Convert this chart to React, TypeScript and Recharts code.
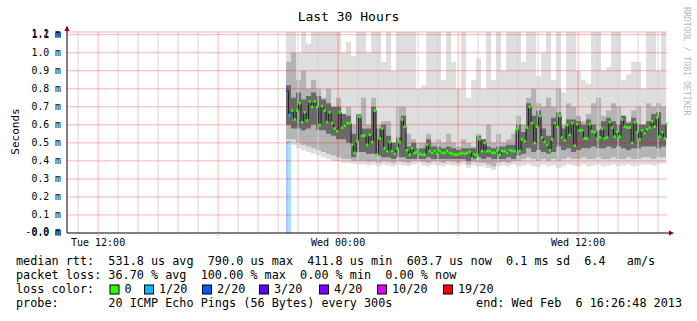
import React from 'react';
import { ComposedChart, Area, Line, XAxis, YAxis, ReferenceLine } from 'recharts';

// time axis, hours since Tue 00:00
const AXIS_START = 10 + 26.8 / 60; // Tue 10:26:48
const AXIS_END = AXIS_START + 30; // Wed 16:26:48
const DATA_START = 21.4;
const MEDIAN_STEP = 0.125;
const SMOKE_STEP = 0.25;
const Y_TOP = 1.115;

const xMajorHours = [12, 18, 24, 30, 36];
const xLabelHours = [12, 24, 36];
const xLabels = ['Tue 12:00', 'Wed 00:00', 'Wed 12:00'];
const xMinorHours = [11, 13, 14, 15, 16, 17, 19, 20, 21, 22, 23, 25, 26, 27, 28, 29, 31, 32, 33, 34, 35, 37, 38, 39, 40];

const yTickValues = [0, 0.1, 0.2, 0.3, 0.4, 0.5, 0.6, 0.7, 0.8, 0.9, 1.0, 1.1];
const yTickLabels = ['0.0 m', '0.1 m', '0.2 m', '0.3 m', '0.4 m', '0.5 m', '0.6 m', '0.7 m', '0.8 m', '0.9 m', '1.0 m', '1.1 m'];
const yExtraLabels: Record<number, string> = { 0: '-0.0 m', 11: '1.2 m' };

// median rtt (ms), one value per 7.5 minutes
const medianRtt = [
  0.79, 0.655, 0.68, 0.63, 0.68, 0.72, 0.615, 0.67, 0.625, 0.73,
  0.70, 0.73, 0.70, 0.60, 0.705, 0.68, 0.615, 0.67, 0.61, 0.58,
  0.565, 0.67, 0.585, 0.595, 0.61, 0.61, 0.49, 0.445, 0.51, 0.645,
  0.54, 0.54, 0.49, 0.545, 0.505, 0.68, 0.435, 0.525, 0.58, 0.47,
  0.455, 0.505, 0.455, 0.44, 0.47, 0.505, 0.63, 0.59, 0.46, 0.435,
  0.47, 0.445, 0.45, 0.44, 0.435, 0.435, 0.49, 0.455, 0.445, 0.455,
  0.44, 0.455, 0.445, 0.445, 0.455, 0.445, 0.44, 0.435, 0.435, 0.44,
  0.445, 0.44, 0.445, 0.45, 0.415, 0.435, 0.435, 0.52, 0.455, 0.50,
  0.455, 0.455, 0.445, 0.445, 0.455, 0.435, 0.455, 0.455, 0.445, 0.46,
  0.455, 0.455, 0.575, 0.455, 0.52, 0.51, 0.585, 0.70, 0.61, 0.50,
  0.59, 0.65, 0.53, 0.505, 0.49, 0.46, 0.52, 0.61, 0.59, 0.65,
  0.53, 0.515, 0.60, 0.545, 0.61, 0.485, 0.605, 0.57, 0.57, 0.525,
  0.525, 0.605, 0.565, 0.56, 0.525, 0.53, 0.58, 0.525, 0.53, 0.615,
  0.585, 0.535, 0.56, 0.535, 0.63, 0.59, 0.585, 0.585, 0.50, 0.615,
  0.56, 0.52, 0.57, 0.555, 0.575, 0.585, 0.62, 0.59, 0.64, 0.535,
  0.56, 0.525, 0.605,
];
// points with packet loss (index into medianRtt -> lost pings of 20)
const lossyIndex = [0, 1];
const lossyCount = [2, 1];
const lossBarTop = [0.51, 0.51];

const lossLevels = [0, 1, 2, 3, 4, 10, 19];
const lossColors = ['#26ff00', '#00b8ff', '#0059ff', '#5e00ff', '#7e00ff', '#dd00ff', '#ff0000'];
const lossLabels = ['0', '1/20', '2/20', '3/20', '4/20', '10/20', '19/20'];

// smoke (ms), one value per 15 minutes
const smokeHi = [
  1.115, 1.115, 1.0, 1.115, 1.05, 1.115, 1.115, 1.115, 1.115, 1.115,
  1.115, 1.0, 1.06, 0.98, 1.115, 1.115, 1.0, 1.115, 1.115, 0.95,
  1.115, 0.9, 1.115, 1.115, 1.115, 1.115, 0.8, 0.82, 1.115, 1.115,
  1.115, 0.85, 1.115, 0.95, 0.8, 1.115, 0.75, 0.85, 0.97, 0.8,
  1.115, 0.85, 1.115, 0.9, 1.115, 1.115, 1.115, 0.95, 1.115, 1.115,
  0.87, 1.0, 1.115, 0.85, 1.115, 0.78, 1.115, 1.115, 0.9, 0.85,
  0.83, 1.115, 1.115, 0.9, 0.92, 1.115, 1.115, 0.85, 0.88, 0.95,
  0.95, 0.8, 1.115, 1.115, 0.9, 1.115, 1.115,
];
const smokeMidHi = [
  0.95, 1.0, 0.85, 0.9, 0.8, 0.85, 0.8, 0.75, 0.8, 0.7, 0.75,
  0.65, 0.7, 0.6, 0.65, 0.75, 0.6, 0.75, 0.6, 0.62, 0.62,
  0.5, 0.7, 0.7, 0.55, 0.52, 0.5, 0.5, 0.55, 0.5, 0.52, 0.5, 0.55, 0.5, 0.48, 0.52, 0.5, 0.48, 0.55,
  0.52, 0.6, 0.5, 0.55, 0.5, 0.52, 0.55, 0.65, 0.6, 0.75, 0.8, 0.72,
  0.7, 0.75, 0.7, 0.8, 0.6, 0.72, 0.7, 0.65, 0.62, 0.66, 0.72, 0.75, 0.65, 0.68, 0.72, 0.7, 0.65, 0.62, 0.68, 0.7, 0.6, 0.72, 0.7, 0.72, 0.7, 0.7,
];
const smokeDarkHi = [
  0.82, 0.75, 0.78, 0.74, 0.76, 0.78, 0.76, 0.74, 0.72, 0.70, 0.70,
  0.66, 0.65, 0.55, 0.66, 0.58, 0.58, 0.70, 0.58, 0.60, 0.54,
  0.50, 0.53, 0.65, 0.48, 0.50, 0.47, 0.47, 0.52, 0.48, 0.48, 0.47, 0.48, 0.47, 0.46, 0.47, 0.47, 0.47, 0.54,
  0.52, 0.48, 0.47, 0.48, 0.48, 0.49, 0.49, 0.60, 0.56, 0.72, 0.65, 0.68,
  0.58, 0.54, 0.64, 0.67, 0.58, 0.63, 0.63, 0.62, 0.60, 0.63, 0.60, 0.57, 0.62, 0.64, 0.62, 0.60, 0.65, 0.61, 0.64, 0.60, 0.60, 0.62, 0.66, 0.67, 0.60, 0.63,
];
const smokeDarkLo = [
  0.60, 0.58, 0.58, 0.57, 0.58, 0.60, 0.57, 0.57, 0.55, 0.54, 0.52,
  0.52, 0.50, 0.42, 0.45, 0.45, 0.44, 0.44, 0.43, 0.42, 0.42,
  0.41, 0.42, 0.42, 0.41, 0.41, 0.41, 0.41, 0.42, 0.41, 0.41, 0.41, 0.41, 0.41, 0.41, 0.41, 0.40, 0.41, 0.42,
  0.41, 0.42, 0.41, 0.41, 0.41, 0.42, 0.41, 0.43, 0.44, 0.47, 0.45, 0.46,
  0.45, 0.44, 0.45, 0.48, 0.46, 0.47, 0.45, 0.46, 0.47, 0.47, 0.48, 0.47, 0.47, 0.48, 0.47, 0.48, 0.47, 0.46, 0.47, 0.47, 0.48, 0.48, 0.48, 0.47, 0.48, 0.48,
];
const smokeMidLo = [
  0.52, 0.52, 0.50, 0.49, 0.48, 0.47, 0.46, 0.45, 0.44, 0.43, 0.42, 0.41, 0.41, 0.40, 0.40,
  0.40, 0.395, 0.40, 0.39, 0.40, 0.395, 0.39, 0.40, 0.395, 0.39, 0.40, 0.40, 0.395, 0.39, 0.40, 0.395, 0.39, 0.40, 0.395, 0.39, 0.40, 0.38, 0.395, 0.39,
  0.39, 0.38, 0.37, 0.39, 0.395, 0.39, 0.40, 0.40, 0.41, 0.42, 0.41, 0.40, 0.41, 0.40, 0.41, 0.40, 0.41, 0.42, 0.41, 0.41,
  0.42, 0.41, 0.41, 0.42, 0.41, 0.41, 0.42, 0.41, 0.41, 0.42, 0.41, 0.41, 0.42, 0.42, 0.41, 0.42, 0.42, 0.42,
];
const smokeLo = [
  0.50, 0.49, 0.47, 0.46, 0.45, 0.44, 0.43, 0.42, 0.41, 0.40, 0.40, 0.39, 0.39, 0.385, 0.38,
  0.38, 0.375, 0.38, 0.37, 0.38, 0.375, 0.37, 0.38, 0.375, 0.37, 0.38, 0.385, 0.375, 0.37, 0.38, 0.375, 0.37, 0.38, 0.375, 0.37, 0.38, 0.36, 0.375, 0.37,
  0.37, 0.36, 0.35, 0.37, 0.375, 0.37, 0.38, 0.37, 0.375, 0.38, 0.37, 0.365, 0.38, 0.37, 0.375, 0.36, 0.37, 0.38, 0.375, 0.37,
  0.38, 0.37, 0.375, 0.38, 0.37, 0.375, 0.38, 0.37, 0.375, 0.38, 0.37, 0.375, 0.38, 0.38, 0.375, 0.38, 0.385, 0.38,
];

const FONT = '"DejaVu Sans Mono", monospace';

const lossOf = (i: number) => {
  const k = lossyIndex.indexOf(i);
  return k < 0 ? 0 : lossyCount[k];
};
const colorOf = (loss: number) => lossColors[lossLevels.indexOf(loss)] || lossColors[0];

const medianData = medianRtt.map((v, i) => ({ t: DATA_START + i * MEDIAN_STEP, v, loss: lossOf(i) }));
const smokeData = smokeLo.map((lo, j) => ({
  t: DATA_START + j * SMOKE_STEP,
  light: [lo, smokeHi[j]],
  mid: [smokeMidLo[j], smokeMidHi[j]],
  dark: [smokeDarkLo[j], smokeDarkHi[j]],
}));
const lossBars = lossyIndex.map((idx, k) => ({
  color: colorOf(lossyCount[k]),
  data: [
    { t: DATA_START + idx * MEDIAN_STEP, top: lossBarTop[k] },
    { t: DATA_START + (idx + 1) * MEDIAN_STEP, top: lossBarTop[k] },
  ],
}));

const xFormat = (h: number) => {
  const k = xLabelHours.indexOf(h);
  return k < 0 ? '' : xLabels[k];
};

const YTick = (props: any) => {
  const { x, y, index } = props;
  const extra = yExtraLabels[index];
  const ty = Math.round(y);
  return (
    <g>
      {extra && (
        <text x={x} y={ty - 1} dy="0.355em" textAnchor="end" fontFamily={FONT} fontSize={9.8} fill="#000" stroke="none" style={{ whiteSpace: 'pre' }}>
          {extra}
        </text>
      )}
      <text x={x} y={ty} dy="0.355em" textAnchor="end" fontFamily={FONT} fontSize={9.8} fill="#000" stroke="none" style={{ whiteSpace: 'pre' }}>
        {yTickLabels[index]}
      </text>
    </g>
  );
};

const MedianDot = (p: any) => {
  if (p.cx == null || p.cy == null) return <g key={p.key} />;
  return <rect key={p.key} x={p.cx - 0.2} y={p.cy - 1.2} width={2.6} height={2.6} fill={colorOf(p.payload.loss)} stroke="none" />;
};

const legendRow1 = 'median rtt:  531.8 us avg  790.0 us max  411.8 us min  603.7 us now  0.1 ms sd  6.4   am/s';
const legendRow2 = 'packet loss: 36.70 % avg  100.00 % max  0.00 % min  0.00 % now';
const legendRow3 = 'loss color:';
const legendRow4a = 'probe:       20 ICMP Echo Pings (56 Bytes) every 300s';
const legendRow4b = 'end: Wed Feb  6 16:26:48 2013';
const lossLabelX = [124.5, 159, 217, 274, 334, 392, 458];

export default function App() {
  const tStyle: React.CSSProperties = { whiteSpace: 'pre' };
  return (
    <div style={{ position: 'absolute', left: 0, top: 0, width: 697, height: 321, background: '#ffffff', overflow: 'hidden' }}>
      <ComposedChart width={697} height={321} margin={{ top: 32, right: 30, bottom: 68, left: 0 }}>
        <XAxis
          type="number"
          dataKey="t"
          domain={[AXIS_START, AXIS_END]}
          allowDataOverflow
          ticks={xMajorHours}
          interval={0}
          tickFormatter={xFormat}
          height={20}
          axisLine={{ stroke: '#000000' }}
          tickLine={{ stroke: '#f0a0a0' }}
          tickSize={3}
          tickMargin={3}
          tick={{ fontFamily: FONT, fontSize: 10, fill: '#000000', stroke: 'none' }}
        />
        <YAxis
          type="number"
          domain={[0, Y_TOP]}
          allowDataOverflow
          ticks={yTickValues}
          interval={0}
          width={67}
          tickLine={false}
          tickSize={0}
          tickMargin={6}
          axisLine={{ stroke: '#000000' }}
          tick={(p: any) => <YTick {...p} />}
        />
        {xMinorHours.map((h) => (
          <ReferenceLine key={'minor' + h} x={h} stroke="#d4d4d4" strokeWidth={1} />
        ))}
        <Area data={smokeData} dataKey="light" type="stepAfter" stroke="none" fill="#dedede" fillOpacity={1} isAnimationActive={false} dot={false} activeDot={false} />
        <Area data={smokeData} dataKey="mid" type="stepAfter" stroke="none" fill="#b4b4b4" fillOpacity={1} isAnimationActive={false} dot={false} activeDot={false} />
        <Area data={smokeData} dataKey="dark" type="stepAfter" stroke="none" fill="#6a6a6a" fillOpacity={1} isAnimationActive={false} dot={false} activeDot={false} />
        {lossBars.map((b, k) => (
          <Area key={'loss' + k} data={b.data} dataKey="top" type="stepAfter" stroke="none" fill={b.color} fillOpacity={0.35} isAnimationActive={false} dot={false} activeDot={false} />
        ))}
        <Line data={medianData} dataKey="v" type="stepAfter" stroke="#1c1c1c" strokeWidth={1} dot={false} activeDot={false} isAnimationActive={false} />
        <Line data={medianData} dataKey="v" type="linear" stroke="none" dot={(p: any) => <MedianDot {...p} />} activeDot={false} isAnimationActive={false} />
        {yTickValues.slice(1).concat([Y_TOP]).map((v) => (
          <ReferenceLine key={'h' + v} y={v} stroke="#ff0000" strokeOpacity={0.3} strokeWidth={1} />
        ))}
        {xMajorHours.map((h) => (
          <ReferenceLine key={'major' + h} x={h} stroke="#ff0000" strokeOpacity={0.3} strokeWidth={1} />
        ))}
      </ComposedChart>
      <svg width={697} height={321} style={{ position: 'absolute', left: 0, top: 0, pointerEvents: 'none' }}>
        <text x={348.5} y={20.5} textAnchor="middle" fontFamily={FONT} fontSize={13} fill="#000">Last 30 Hours</text>
        <text transform="translate(18.5,131.5) rotate(-90)" textAnchor="middle" fontFamily={FONT} fontSize={11} fill="#000">Seconds</text>
        <text transform="translate(684,7) rotate(90)" fontFamily={FONT} fontSize={8.2} fill="#b8b8b8" style={tStyle}>RRDTOOL / TOBI OETIKER</text>
        <line x1={667} y1={233} x2={671} y2={233} stroke="#000" />
        <line x1={67} y1={32} x2={67} y2={29} stroke="#000" />
        <polygon points="64.5,31 69.5,31 67,25.5" fill="#990000" />
        <polygon points="669,230.5 669,235.5 674,233" fill="#990000" />
        <text x={16} y={265} fontFamily={FONT} fontSize={11.8} fill="#000" style={tStyle}>{legendRow1}</text>
        <text x={16} y={279} fontFamily={FONT} fontSize={11.8} fill="#000" style={tStyle}>{legendRow2}</text>
        <text x={16} y={293} fontFamily={FONT} fontSize={11.8} fill="#000" style={tStyle}>{legendRow3}</text>
        {lossLabels.map((lab, k) => (
          <g key={lab}>
            <rect x={lossLabelX[k] - 14.5} y={285} width={9} height={9} fill={lossColors[k]} stroke="#000" strokeWidth={1} />
            <text x={lossLabelX[k]} y={293} fontFamily={FONT} fontSize={11.8} fill="#000" style={tStyle}>{lab}</text>
          </g>
        ))}
        <text x={16} y={307} fontFamily={FONT} fontSize={11.8} fill="#000" style={tStyle}>{legendRow4a}</text>
        <text x={682} y={307} textAnchor="end" fontFamily={FONT} fontSize={11.8} fill="#000" style={tStyle}>{legendRow4b}</text>
      </svg>
    </div>
  );
}
